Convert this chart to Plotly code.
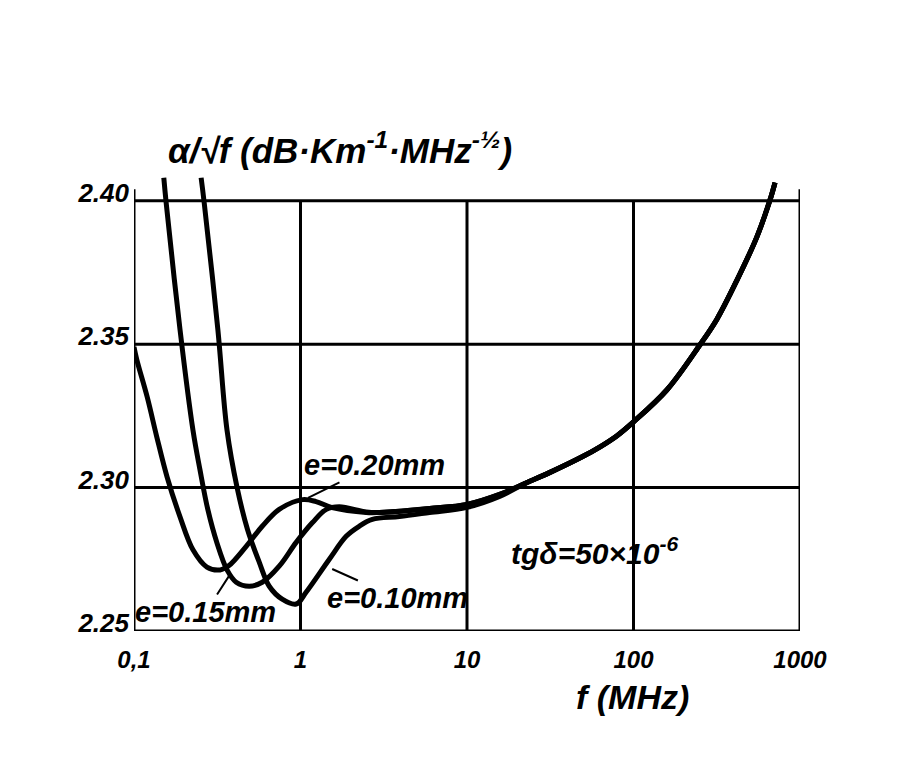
import numpy as np
import plotly.graph_objects as go

# ---- axis ticks ----
X_TICKS = [0.1, 1, 10, 100, 1000]
X_TICK_TEXT = ["0,1", "1", "10", "100", "1000"]
Y_TICKS = [2.25, 2.30, 2.35, 2.40]
Y_TICK_TEXT = ["2.25", "2.30", "2.35", "2.40"]
Y_TOP = 2.41          # curves run slightly above the 2.40 line
EDGE_TOP = 2.404      # the two side edges stick out a little above 2.40

# ---- curves: f in MHz, alpha/sqrt(f) ----
tail_f = [22.8, 31.3, 49.5, 63, 79.3, 100, 159, 251, 317, 419, 551, 661, 708]
tail_y = [2.3017, 2.3052, 2.3108, 2.3142, 2.3180, 2.3229, 2.3341, 2.3498, 2.3587,
          2.3724, 2.3874, 2.4003, 2.4063]

e20_f = [0.1, 0.104, 0.120, 0.137, 0.158, 0.189, 0.226, 0.274, 0.329, 0.372, 0.472,
         0.589, 0.745, 1.03, 1.24, 1.55, 2.48, 2.98, 5.96, 10, 15.7] + tail_f
e20_y = [2.349, 2.3445, 2.3316, 2.3177, 2.3037, 2.2898, 2.2783, 2.2723, 2.2713, 2.2728,
         2.2795, 2.2865, 2.2924, 2.2958, 2.2951, 2.293, 2.2913, 2.2913, 2.2927, 2.2941,
         2.2976] + tail_y

e15_f = [0.151, 0.156, 0.189, 0.226, 0.249, 0.278, 0.315, 0.362, 0.411, 0.492, 0.589,
         0.745, 0.942, 1.18, 1.43, 1.71, 2.48, 2.98, 5.96, 10, 15.7] + tail_f
e15_y = [2.408, 2.3993, 2.355, 2.320, 2.3062, 2.2922, 2.2807, 2.2713, 2.267, 2.2656,
         2.267, 2.2726, 2.2809, 2.2878, 2.2924, 2.2933, 2.2915, 2.2913, 2.2927, 2.2941,
         2.2976] + tail_y

e10_f = [0.253, 0.264, 0.319, 0.362, 0.416, 0.48, 0.565, 0.649, 0.776, 0.942, 1.08,
         1.49, 1.88, 2.25, 2.70, 3.93, 5.96, 10, 15.7] + tail_f
e10_y = [2.408, 2.3993, 2.355, 2.320, 2.300, 2.2855, 2.274, 2.2656, 2.2611, 2.2594,
         2.2635, 2.275, 2.283, 2.2865, 2.2889, 2.2899, 2.2913, 2.2931, 2.2969] + tail_y

FONT = "Liberation Sans, Arial, DejaVu Sans"
NARROW = "Liberation Sans Narrow, Liberation Sans, DejaVu Sans"
INK = "black"

fig = go.Figure()

# grid / frame lines
for i, xv in enumerate(X_TICKS):
    top = EDGE_TOP if i in (0, len(X_TICKS) - 1) else Y_TICKS[-1]
    fig.add_trace(go.Scatter(x=[xv, xv], y=[Y_TICKS[0], top], mode="lines",
                             line=dict(color=INK, width=3), hoverinfo="skip", showlegend=False))
for yv in Y_TICKS:
    fig.add_trace(go.Scatter(x=[X_TICKS[0], X_TICKS[-1]], y=[yv, yv], mode="lines",
                             line=dict(color=INK, width=3), hoverinfo="skip", showlegend=False))

# curves
for name, fx, fy in [("e=0.20mm", e20_f, e20_y), ("e=0.15mm", e15_f, e15_y), ("e=0.10mm", e10_f, e10_y)]:
    fig.add_trace(go.Scatter(x=fx, y=fy, mode="lines", name=name,
                             line=dict(color=INK, width=5, shape="spline", smoothing=1.0),
                             showlegend=False))

lfont = dict(family=NARROW, size=29, color=INK, weight="bold", style="italic")

def label(text, tip_f, tip_y, txt_f, txt_y):
    fig.add_annotation(x=np.log10(tip_f), y=tip_y, ax=np.log10(txt_f), ay=txt_y,
                       axref="x", ayref="y", xref="x", yref="y", text=text,
                       showarrow=True, arrowhead=0, arrowwidth=2, arrowcolor=INK,
                       font=lfont)

label("e=0.20mm", 1.11, 2.2964, 2.80, 2.3079)
label("e=0.15mm", 0.38, 2.2700, 0.27, 2.2566)
label("e=0.10mm", 1.55, 2.2716, 3.8, 2.2615)

fig.add_annotation(x=np.log10(58), y=2.278, xref="x", yref="y", showarrow=False,
                   text="tgδ=50×10<sup>-6</sup>",
                   font=dict(family=FONT, size=30, color=INK, weight="bold", style="italic"))

fig.add_annotation(x=0.309, y=1.052, xref="paper", yref="paper", xanchor="center",
                   yanchor="middle", showarrow=False,
                   text="α/√f (dB·Km<sup>-1</sup>·MHz<sup>-½</sup>)",
                   font=dict(family=FONT, size=35, color=INK, weight="bold", style="italic"))
fig.add_annotation(x=0.748, y=-0.143, xref="paper", yref="paper", xanchor="center",
                   yanchor="middle", showarrow=False,
                   text="f (MHz)",
                   font=dict(family=FONT, size=34, color=INK, weight="bold", style="italic"))

fig.update_layout(
    width=904, height=766,
    margin=dict(l=134, r=104, t=172, b=135),
    paper_bgcolor="white", plot_bgcolor="white",
    xaxis=dict(type="log", range=[np.log10(X_TICKS[0]), np.log10(X_TICKS[-1])],
               tickvals=X_TICKS, ticktext=X_TICK_TEXT, showgrid=False, zeroline=False,
               showline=False, ticks="", ticklabelstandoff=12,
               tickfont=dict(family=FONT, size=24, color=INK, weight="bold", style="italic")),
    yaxis=dict(range=[Y_TICKS[0], Y_TOP], tickvals=Y_TICKS, ticktext=Y_TICK_TEXT,
               showgrid=False, zeroline=False, showline=False, ticks="",
               ticklabelshift=-8, ticklabelstandoff=4,
               tickfont=dict(family=NARROW, size=26, color=INK, weight="bold", style="italic")),
)

fig.write_html("out.html")
